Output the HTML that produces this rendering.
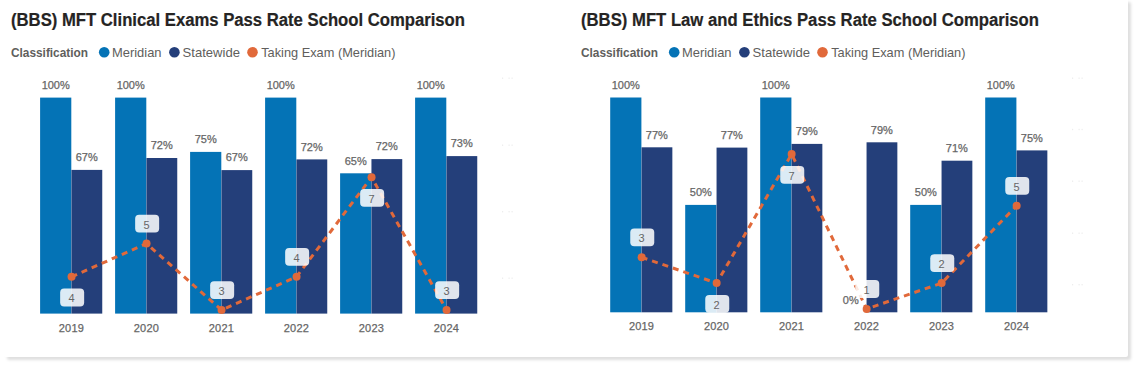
<!DOCTYPE html>
<html><head><meta charset="utf-8">
<style>
html,body{margin:0;padding:0;background:#fff;}
body{width:1141px;height:369px;overflow:hidden;position:relative;font-family:"Liberation Sans",sans-serif;}
.card{position:absolute;left:4px;top:-1px;width:1124px;height:358px;background:#fff;box-shadow:3px 3px 3px rgba(0,0,0,0.13);border-radius:2px;}
svg{position:absolute;left:0;top:0;}
text{font-family:"Liberation Sans",sans-serif;}
.dl{stroke:#666;stroke-width:0.25;}
</style></head><body>
<div class="card"></div>
<svg width="1141" height="369" viewBox="0 0 1141 369">

<g transform="translate(0,0)">
<text x="11" y="25.7" font-size="18" font-weight="bold" fill="#252423" stroke="#252423" stroke-width="0.2" textLength="454" lengthAdjust="spacingAndGlyphs">(BBS) MFT Clinical Exams Pass Rate School Comparison</text>
<text x="11" y="56.8" font-size="13" font-weight="bold" fill="#605e5c" textLength="77" lengthAdjust="spacingAndGlyphs">Classification</text>
<circle cx="104.2" cy="52.3" r="5.3" fill="#0473b6"/>
<text x="112" y="56.8" font-size="13" fill="#605e5c" textLength="49.5" lengthAdjust="spacingAndGlyphs">Meridian</text>
<circle cx="174.4" cy="52.3" r="5.3" fill="#243f7a"/>
<text x="182.6" y="56.8" font-size="13" fill="#605e5c" textLength="57.4" lengthAdjust="spacingAndGlyphs">Statewide</text>
<circle cx="252.5" cy="52.3" r="5.3" fill="#e1693a"/>
<text x="261.2" y="56.8" font-size="13" fill="#605e5c" textLength="134.3" lengthAdjust="spacingAndGlyphs">Taking Exam (Meridian)</text>
</g>
<g transform="translate(570,0)">
<text x="11" y="25.7" font-size="18" font-weight="bold" fill="#252423" stroke="#252423" stroke-width="0.2" textLength="458" lengthAdjust="spacingAndGlyphs">(BBS) MFT Law and Ethics Pass Rate School Comparison</text>
<text x="11" y="56.8" font-size="13" font-weight="bold" fill="#605e5c" textLength="77" lengthAdjust="spacingAndGlyphs">Classification</text>
<circle cx="104.2" cy="52.3" r="5.3" fill="#0473b6"/>
<text x="112" y="56.8" font-size="13" fill="#605e5c" textLength="49.5" lengthAdjust="spacingAndGlyphs">Meridian</text>
<circle cx="174.4" cy="52.3" r="5.3" fill="#243f7a"/>
<text x="182.6" y="56.8" font-size="13" fill="#605e5c" textLength="57.4" lengthAdjust="spacingAndGlyphs">Statewide</text>
<circle cx="252.5" cy="52.3" r="5.3" fill="#e1693a"/>
<text x="261.2" y="56.8" font-size="13" fill="#605e5c" textLength="134.3" lengthAdjust="spacingAndGlyphs">Taking Exam (Meridian)</text>
</g>
<rect x="40.10" y="97.60" width="31.2" height="216.00" fill="#0473b6"/>
<rect x="71.45" y="169.90" width="30.8" height="143.70" fill="#243f7a"/>
<text x="55.70" y="88.80" font-size="11" fill="#666666" class="dl" text-anchor="middle">100%</text>
<text x="86.70" y="161.10" font-size="11" fill="#666666" class="dl" text-anchor="middle">67%</text>
<text x="71.30" y="331.80" font-size="11" fill="#666666" class="dl" text-anchor="middle" textLength="25" lengthAdjust="spacing">2019</text>
<rect x="115.10" y="97.60" width="31.2" height="216.00" fill="#0473b6"/>
<rect x="146.45" y="158.00" width="30.8" height="155.60" fill="#243f7a"/>
<text x="130.70" y="88.80" font-size="11" fill="#666666" class="dl" text-anchor="middle">100%</text>
<text x="161.70" y="149.20" font-size="11" fill="#666666" class="dl" text-anchor="middle">72%</text>
<text x="146.30" y="331.80" font-size="11" fill="#666666" class="dl" text-anchor="middle" textLength="25" lengthAdjust="spacing">2020</text>
<rect x="190.10" y="151.90" width="31.2" height="161.70" fill="#0473b6"/>
<rect x="221.45" y="170.10" width="30.8" height="143.50" fill="#243f7a"/>
<text x="205.70" y="143.10" font-size="11" fill="#666666" class="dl" text-anchor="middle">75%</text>
<text x="236.70" y="161.30" font-size="11" fill="#666666" class="dl" text-anchor="middle">67%</text>
<text x="221.30" y="331.80" font-size="11" fill="#666666" class="dl" text-anchor="middle" textLength="25" lengthAdjust="spacing">2021</text>
<rect x="265.10" y="97.60" width="31.2" height="216.00" fill="#0473b6"/>
<rect x="296.45" y="159.40" width="30.8" height="154.20" fill="#243f7a"/>
<text x="280.70" y="88.80" font-size="11" fill="#666666" class="dl" text-anchor="middle">100%</text>
<text x="311.70" y="150.60" font-size="11" fill="#666666" class="dl" text-anchor="middle">72%</text>
<text x="296.30" y="331.80" font-size="11" fill="#666666" class="dl" text-anchor="middle" textLength="25" lengthAdjust="spacing">2022</text>
<rect x="340.10" y="173.30" width="31.2" height="140.30" fill="#0473b6"/>
<rect x="371.45" y="159.10" width="30.8" height="154.50" fill="#243f7a"/>
<text x="355.70" y="164.50" font-size="11" fill="#666666" class="dl" text-anchor="middle">65%</text>
<text x="386.70" y="150.30" font-size="11" fill="#666666" class="dl" text-anchor="middle">72%</text>
<text x="371.30" y="331.80" font-size="11" fill="#666666" class="dl" text-anchor="middle" textLength="25" lengthAdjust="spacing">2023</text>
<rect x="415.10" y="97.60" width="31.2" height="216.00" fill="#0473b6"/>
<rect x="446.45" y="156.10" width="30.8" height="157.50" fill="#243f7a"/>
<text x="430.70" y="88.80" font-size="11" fill="#666666" class="dl" text-anchor="middle">100%</text>
<text x="461.70" y="147.30" font-size="11" fill="#666666" class="dl" text-anchor="middle">73%</text>
<text x="446.30" y="331.80" font-size="11" fill="#666666" class="dl" text-anchor="middle" textLength="25" lengthAdjust="spacing">2024</text>
<path d="M 71.55 276.80 L 146.55 243.60 L 221.55 310.00 L 296.55 276.80 L 371.55 177.20 L 446.55 310.00" fill="none" stroke="#e1693a" stroke-width="3" stroke-dasharray="6 5"/>
<circle cx="71.55" cy="276.80" r="4" fill="#e1693a"/>
<circle cx="146.55" cy="243.60" r="4" fill="#e1693a"/>
<circle cx="221.55" cy="310.00" r="4" fill="#e1693a"/>
<circle cx="296.55" cy="276.80" r="4" fill="#e1693a"/>
<circle cx="371.55" cy="177.20" r="4" fill="#e1693a"/>
<circle cx="446.55" cy="310.00" r="4" fill="#e1693a"/>
<rect x="60.15" y="288.60" width="24" height="17.8" rx="4" fill="#ffffff" fill-opacity="0.86"/>
<text x="71.55" y="302.30" font-size="11" fill="#666666" text-anchor="middle">4</text>
<rect x="135.15" y="214.80" width="24" height="17.8" rx="4" fill="#ffffff" fill-opacity="0.86"/>
<text x="146.55" y="228.50" font-size="11" fill="#666666" text-anchor="middle">5</text>
<rect x="210.15" y="281.20" width="24" height="17.8" rx="4" fill="#ffffff" fill-opacity="0.86"/>
<text x="221.55" y="294.90" font-size="11" fill="#666666" text-anchor="middle">3</text>
<rect x="285.15" y="248.00" width="24" height="17.8" rx="4" fill="#ffffff" fill-opacity="0.86"/>
<text x="296.55" y="261.70" font-size="11" fill="#666666" text-anchor="middle">4</text>
<rect x="360.15" y="189.00" width="24" height="17.8" rx="4" fill="#ffffff" fill-opacity="0.86"/>
<text x="371.55" y="202.70" font-size="11" fill="#666666" text-anchor="middle">7</text>
<rect x="435.15" y="281.20" width="24" height="17.8" rx="4" fill="#ffffff" fill-opacity="0.86"/>
<text x="446.55" y="294.90" font-size="11" fill="#666666" text-anchor="middle">3</text>
<rect x="610.20" y="97.50" width="31.2" height="214.80" fill="#0473b6"/>
<rect x="641.55" y="147.30" width="30.8" height="165.00" fill="#243f7a"/>
<text x="625.80" y="88.70" font-size="11" fill="#666666" class="dl" text-anchor="middle">100%</text>
<text x="656.80" y="138.50" font-size="11" fill="#666666" class="dl" text-anchor="middle">77%</text>
<text x="641.40" y="329.80" font-size="11" fill="#666666" class="dl" text-anchor="middle" textLength="25" lengthAdjust="spacing">2019</text>
<rect x="685.20" y="204.90" width="31.2" height="107.40" fill="#0473b6"/>
<rect x="716.55" y="147.60" width="30.8" height="164.70" fill="#243f7a"/>
<text x="700.80" y="196.10" font-size="11" fill="#666666" class="dl" text-anchor="middle">50%</text>
<text x="731.80" y="138.80" font-size="11" fill="#666666" class="dl" text-anchor="middle">77%</text>
<text x="716.40" y="329.80" font-size="11" fill="#666666" class="dl" text-anchor="middle" textLength="25" lengthAdjust="spacing">2020</text>
<rect x="760.20" y="97.50" width="31.2" height="214.80" fill="#0473b6"/>
<rect x="791.55" y="143.90" width="30.8" height="168.40" fill="#243f7a"/>
<text x="775.80" y="88.70" font-size="11" fill="#666666" class="dl" text-anchor="middle">100%</text>
<text x="806.80" y="135.10" font-size="11" fill="#666666" class="dl" text-anchor="middle">79%</text>
<text x="791.40" y="329.80" font-size="11" fill="#666666" class="dl" text-anchor="middle" textLength="25" lengthAdjust="spacing">2021</text>
<rect x="866.55" y="142.30" width="30.8" height="170.00" fill="#243f7a"/>
<text x="850.80" y="303.50" font-size="11" fill="#666666" class="dl" text-anchor="middle">0%</text>
<text x="881.80" y="133.50" font-size="11" fill="#666666" class="dl" text-anchor="middle">79%</text>
<text x="866.40" y="329.80" font-size="11" fill="#666666" class="dl" text-anchor="middle" textLength="25" lengthAdjust="spacing">2022</text>
<rect x="910.20" y="204.90" width="31.2" height="107.40" fill="#0473b6"/>
<rect x="941.55" y="160.70" width="30.8" height="151.60" fill="#243f7a"/>
<text x="925.80" y="196.10" font-size="11" fill="#666666" class="dl" text-anchor="middle">50%</text>
<text x="956.80" y="151.90" font-size="11" fill="#666666" class="dl" text-anchor="middle">71%</text>
<text x="941.40" y="329.80" font-size="11" fill="#666666" class="dl" text-anchor="middle" textLength="25" lengthAdjust="spacing">2023</text>
<rect x="985.20" y="97.50" width="31.2" height="214.80" fill="#0473b6"/>
<rect x="1016.55" y="150.40" width="30.8" height="161.90" fill="#243f7a"/>
<text x="1000.80" y="88.70" font-size="11" fill="#666666" class="dl" text-anchor="middle">100%</text>
<text x="1031.80" y="141.60" font-size="11" fill="#666666" class="dl" text-anchor="middle">75%</text>
<text x="1016.40" y="329.80" font-size="11" fill="#666666" class="dl" text-anchor="middle" textLength="25" lengthAdjust="spacing">2024</text>
<path d="M 641.65 257.30 L 716.65 283.10 L 791.65 154.10 L 866.65 308.90 L 941.65 283.10 L 1016.65 205.70" fill="none" stroke="#e1693a" stroke-width="3" stroke-dasharray="6 5"/>
<circle cx="641.65" cy="257.30" r="4" fill="#e1693a"/>
<circle cx="716.65" cy="283.10" r="4" fill="#e1693a"/>
<circle cx="791.65" cy="154.10" r="4" fill="#e1693a"/>
<circle cx="866.65" cy="308.90" r="4" fill="#e1693a"/>
<circle cx="941.65" cy="283.10" r="4" fill="#e1693a"/>
<circle cx="1016.65" cy="205.70" r="4" fill="#e1693a"/>
<rect x="630.25" y="228.50" width="24" height="17.8" rx="4" fill="#ffffff" fill-opacity="0.86"/>
<text x="641.65" y="242.20" font-size="11" fill="#666666" text-anchor="middle">3</text>
<rect x="705.25" y="294.90" width="24" height="17.8" rx="4" fill="#ffffff" fill-opacity="0.86"/>
<text x="716.65" y="308.60" font-size="11" fill="#666666" text-anchor="middle">2</text>
<rect x="780.25" y="165.90" width="24" height="17.8" rx="4" fill="#ffffff" fill-opacity="0.86"/>
<text x="791.65" y="179.60" font-size="11" fill="#666666" text-anchor="middle">7</text>
<rect x="855.25" y="280.10" width="24" height="17.8" rx="4" fill="#ffffff" fill-opacity="0.86"/>
<text x="866.65" y="293.80" font-size="11" fill="#666666" text-anchor="middle">1</text>
<rect x="930.25" y="254.30" width="24" height="17.8" rx="4" fill="#ffffff" fill-opacity="0.86"/>
<text x="941.65" y="268.00" font-size="11" fill="#666666" text-anchor="middle">2</text>
<rect x="1005.25" y="176.90" width="24" height="17.8" rx="4" fill="#ffffff" fill-opacity="0.86"/>
<text x="1016.65" y="190.60" font-size="11" fill="#666666" text-anchor="middle">5</text>
<rect x="502" y="77.5" width="1.2" height="1.4" fill="#ededed"/>
<rect x="508.5" y="77.5" width="1.2" height="1.4" fill="#ededed"/>
<rect x="511.5" y="77.5" width="1.2" height="1.4" fill="#ededed"/>
<rect x="502" y="144.5" width="1.2" height="1.4" fill="#ededed"/>
<rect x="508.5" y="144.5" width="1.2" height="1.4" fill="#ededed"/>
<rect x="511.5" y="144.5" width="1.2" height="1.4" fill="#ededed"/>
<rect x="502" y="211" width="1.2" height="1.4" fill="#ededed"/>
<rect x="508.5" y="211" width="1.2" height="1.4" fill="#ededed"/>
<rect x="511.5" y="211" width="1.2" height="1.4" fill="#ededed"/>
<rect x="502" y="277.5" width="1.2" height="1.4" fill="#ededed"/>
<rect x="508.5" y="277.5" width="1.2" height="1.4" fill="#ededed"/>
<rect x="511.5" y="277.5" width="1.2" height="1.4" fill="#ededed"/>
<rect x="1072" y="77.5" width="1.2" height="1.4" fill="#ededed"/>
<rect x="1078.5" y="77.5" width="1.2" height="1.4" fill="#ededed"/>
<rect x="1081.5" y="77.5" width="1.2" height="1.4" fill="#ededed"/>
<rect x="1072" y="128.8" width="1.2" height="1.4" fill="#ededed"/>
<rect x="1078.5" y="128.8" width="1.2" height="1.4" fill="#ededed"/>
<rect x="1081.5" y="128.8" width="1.2" height="1.4" fill="#ededed"/>
<rect x="1072" y="180.5" width="1.2" height="1.4" fill="#ededed"/>
<rect x="1078.5" y="180.5" width="1.2" height="1.4" fill="#ededed"/>
<rect x="1081.5" y="180.5" width="1.2" height="1.4" fill="#ededed"/>
<rect x="1072" y="232.5" width="1.2" height="1.4" fill="#ededed"/>
<rect x="1078.5" y="232.5" width="1.2" height="1.4" fill="#ededed"/>
<rect x="1081.5" y="232.5" width="1.2" height="1.4" fill="#ededed"/>
<rect x="1072" y="284" width="1.2" height="1.4" fill="#ededed"/>
<rect x="1078.5" y="284" width="1.2" height="1.4" fill="#ededed"/>
<rect x="1081.5" y="284" width="1.2" height="1.4" fill="#ededed"/>
</svg></body></html>
